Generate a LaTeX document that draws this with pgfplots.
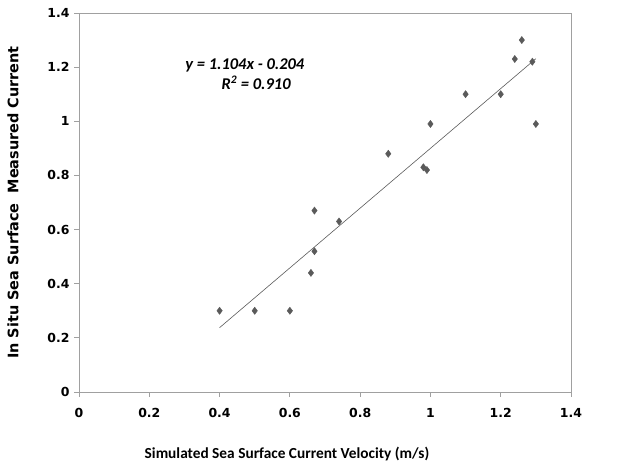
\documentclass[border=0pt]{standalone}
\usepackage{pgfplots}
\pgfplotsset{compat=1.18}
\usepackage{fontspec}
\setmainfont{Carlito}
\newfontfamily\tickfont{DejaVu Sans}[BoldFont={DejaVu Sans Bold}]
\definecolor{ptgray}{RGB}{90,90,90}
\definecolor{framegray}{RGB}{160,160,160}

\begin{document}
\begin{tikzpicture}[x=1bp,y=1bp]
\useasboundingbox (0,0) rectangle (630,469);
\begin{axis}[
    at={(79bp,77bp)},
    anchor=south west,
    scale only axis,
    width=492bp,
    height=379bp,
    xmin=0, xmax=1.4,
    ymin=0, ymax=1.4,
    xtick={0,0.2,...,1.4},
    ytick={0,0.2,...,1.4},
    axis line style={framegray, line width=0.8pt},
    tick style={framegray, line width=0.8pt},
    tick align=outside,
    major tick length=5bp,
    xtick pos=bottom, ytick pos=left,
    /pgf/number format/assume math mode=true,
    tick label style={font=\tickfont\bfseries\fontsize{12.5}{14}\selectfont},
    xticklabel style={yshift=-8bp},
    yticklabel style={xshift=-1bp},
    xlabel={Simulated Sea Surface Current Velocity (m/s)},
    ylabel={In Situ Sea Surface\ \ Measured Current},
    xlabel style={font=\bfseries\fontsize{15.4}{18}\selectfont, yshift=-22bp, xshift=-38bp},
    ylabel style={font=\tickfont\bfseries\fontsize{14.5}{16}\selectfont, yshift=22bp},
]
\addplot[only marks, mark=diamond*, mark size=3.6bp, draw=ptgray, fill=ptgray] coordinates {
    (0.40,0.30) (0.50,0.30) (0.60,0.30) (0.66,0.44) (0.67,0.52)
    (0.67,0.67) (0.74,0.63) (0.88,0.88) (0.98,0.83) (0.99,0.82)
    (1.00,0.99) (1.10,1.10) (1.20,1.10) (1.24,1.23) (1.26,1.30)
    (1.29,1.22) (1.30,0.99)
};
% linear trendline, y = 1.104x - 0.204
\addplot[ptgray, line width=0.6pt] coordinates {(0.40,0.2376) (1.30,1.2312)};
\node[font=\bfseries\itshape\fontsize{16.5}{18}\selectfont] at (axis cs:0.472,1.208)
    {y = 1.104x - 0.204};
\node[font=\bfseries\itshape\fontsize{16.5}{18}\selectfont] at (axis cs:0.504,1.141)
    {R\textsuperscript{2} = 0.910};
\end{axis}
\end{tikzpicture}
\end{document}
